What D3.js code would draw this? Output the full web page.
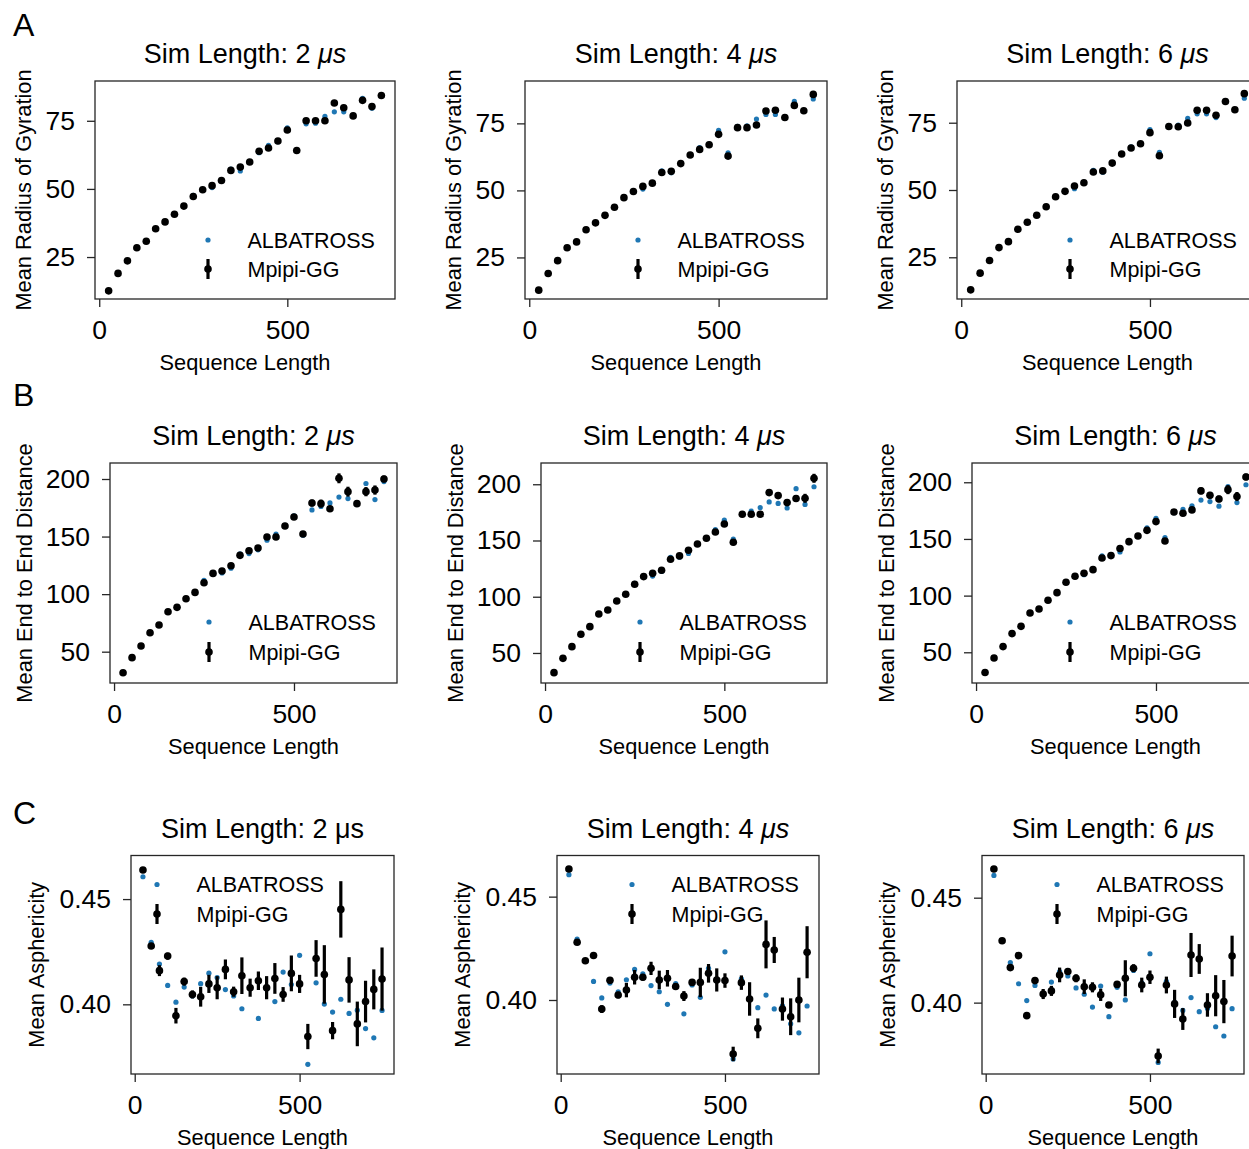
<!DOCTYPE html>
<html>
<head>
<meta charset="utf-8">
<script src="https://cdn.jsdelivr.net/npm/d3@7"></script>
<style>
  html, body { margin: 0; padding: 0; background: #fff; }
  svg { display: block; font-family: "Liberation Sans", Arial, Helvetica, sans-serif; }
</style>
</head>
<body>
<svg id="fig" width="1249" height="1149"></svg>
<script>
// ---------------- DATA ----------------
const seqLength = [25,50,75,100,125,150,175,200,225,250,275,300,325,350,375,400,425,450,475,500,525,550,575,600,625,650,675,700,725,750];
const xTicks = [0, 500];
const simLengths = ["2", "4", "6"];

// Row A : Mean Radius of Gyration
const rgTicks = [25, 50, 75];
const rgAlbatross = [12.7,19.0,23.7,28.5,30.8,35.4,38.0,40.7,43.7,47.6,49.6,50.5,52.8,57.3,56.6,60.0,63.3,66.0,67.3,72.4,64.0,73.9,74.1,76.6,78.3,78.3,76.9,83.2,79.6,84.1];
const rgMpipi2us = [12.6,19.0,23.6,28.4,30.8,35.4,37.9,40.7,43.7,47.2,49.7,51.2,53.1,56.8,58.0,59.9,63.8,65.0,67.6,71.6,64.1,75.0,75.0,75.0,81.5,79.8,76.8,82.5,80.2,84.3];
const rgMpipi4us = [12.8,19.0,23.8,28.6,30.8,35.3,37.9,40.7,43.7,47.3,49.6,51.5,52.7,56.7,57.1,60.0,63.2,65.3,67.0,70.9,62.8,73.4,73.4,74.4,79.6,79.9,77.2,81.7,79.7,85.8];
const rgMpipi6us = [12.9,19.1,23.8,28.6,30.8,35.4,38.0,40.6,43.8,47.5,49.5,51.5,52.7,56.7,57.1,60.0,63.4,65.6,67.2,71.3,62.7,73.6,73.5,74.9,79.6,79.6,77.8,82.9,79.8,85.8];
const rgErr2us = [0.2,0.2,0.2,0.2,0.2,0.3,0.3,0.3,0.3,0.3,0.3,0.3,0.3,0.4,0.4,0.4,0.4,0.4,0.4,0.4,0.5,0.5,0.5,0.5,0.6,0.6,0.6,0.6,0.6,0.6];
const rgErr4us = [0.2,0.2,0.2,0.2,0.2,0.2,0.3,0.3,0.3,0.3,0.3,0.3,0.3,0.3,0.4,0.4,0.4,0.4,0.4,0.4,0.4,0.4,0.5,0.5,0.5,0.5,0.5,0.5,0.5,0.5];
const rgErr6us = [0.2,0.2,0.2,0.2,0.2,0.2,0.2,0.3,0.3,0.3,0.3,0.3,0.3,0.3,0.3,0.3,0.3,0.4,0.4,0.4,0.4,0.4,0.4,0.4,0.4,0.4,0.4,0.4,0.4,0.4];

// Row B : Mean End to End Distance
const reTicks = [50, 100, 150, 200];
const reAlbatross = [32.0,45.0,55.2,66.5,73.2,84.7,88.3,96.0,102.0,112.0,117.5,118.4,122.5,135.0,135.2,138.5,146.8,152.2,159.7,168.1,151.2,173.1,176.1,179.2,184.3,183.0,178.9,196.1,182.1,197.8];
const reMpipi2us = [31.7,44.8,54.9,66.5,73.2,84.7,88.5,96.0,101.5,109.9,118.0,120.1,124.7,133.7,137.7,140.1,149.6,149.6,159.2,167.0,152.2,179.1,178.6,174.2,200.6,189.0,178.6,189.0,190.4,200.0];
const reMpipi4us = [32.5,45.2,55.6,66.6,73.4,84.7,88.2,96.2,102.2,111.1,117.9,120.8,123.5,133.3,136.3,141.3,146.9,152.0,157.6,164.7,148.4,173.3,173.3,173.3,192.6,189.9,183.7,187.3,187.5,205.3];
const reMpipi6us = [32.1,45.0,55.0,66.5,72.9,84.7,88.2,95.9,102.6,111.8,117.1,119.7,122.9,133.2,135.3,141.5,147.6,152.6,157.6,165.3,148.2,173.8,172.6,175.6,192.4,188.5,185.3,193.5,187.4,204.7];
const reErr2us = [0.6,0.7,0.8,0.8,0.9,1.0,1.0,1.0,1.1,1.1,1.2,1.2,1.2,1.3,1.5,1.5,1.5,1.5,1.6,1.6,1.8,3.0,3.5,2.0,4.3,4.3,2.0,4.0,4.0,3.0];
const reErr4us = [0.5,0.6,0.7,0.8,0.8,0.9,0.9,1.0,1.0,1.0,1.1,1.1,1.2,1.2,1.2,1.3,1.3,1.4,1.5,2.0,2.5,1.5,1.5,1.5,2.5,2.5,3.0,3.0,4.0,4.0];
const reErr6us = [0.5,0.5,0.6,0.7,0.7,0.8,0.8,0.9,0.9,1.0,1.0,1.0,1.1,1.1,1.1,1.2,1.2,1.3,1.3,1.5,2.0,1.5,1.5,1.5,3.0,3.0,3.0,4.0,4.0,3.0];

// Row C : Mean Asphericity
const asTicks = [0.40, 0.45];
const asAlbatross = [0.4606,0.4295,0.4191,0.4090,0.4010,0.4082,0.4040,0.4098,0.4148,0.4127,0.4070,0.4040,0.3979,0.4079,0.3933,0.4073,0.4013,0.4153,0.4094,0.4233,0.3715,0.4102,0.4001,0.3963,0.4024,0.3957,0.3972,0.3885,0.3841,0.3971];
const asMpipi2us = [0.4638,0.4277,0.4160,0.4229,0.3946,0.4108,0.4047,0.4036,0.4097,0.4079,0.4166,0.4060,0.4136,0.4079,0.4112,0.4079,0.4123,0.4047,0.4147,0.4097,0.3847,0.4218,0.4142,0.3875,0.4451,0.4116,0.3907,0.4013,0.4071,0.4120];
const asMpipi4us = [0.4634,0.4279,0.4190,0.4215,0.3956,0.4095,0.4024,0.4048,0.4110,0.4110,0.4153,0.4097,0.4105,0.4065,0.4019,0.4085,0.4085,0.4129,0.4097,0.4094,0.3739,0.4084,0.4005,0.3863,0.4269,0.4242,0.3956,0.3919,0.4000,0.4231];
const asMpipi6us = [0.4637,0.4295,0.4167,0.4224,0.3938,0.4105,0.4041,0.4056,0.4132,0.4148,0.4116,0.4076,0.4073,0.4037,0.3989,0.4087,0.4116,0.4164,0.4084,0.4121,0.3746,0.4084,0.3994,0.3922,0.4227,0.4208,0.3989,0.4033,0.4005,0.4222];
const asErr2us = [0.0008,0.0013,0.0026,0.0016,0.0037,0.0019,0.0019,0.0047,0.0043,0.0055,0.0047,0.0024,0.0087,0.0043,0.0044,0.0055,0.0073,0.0035,0.0085,0.0043,0.0060,0.0087,0.0139,0.0041,0.0134,0.0108,0.0106,0.0099,0.0095,0.0150];
const asErr4us = [0.0005,0.0008,0.0008,0.0008,0.0019,0.0016,0.0016,0.0035,0.0035,0.0016,0.0032,0.0045,0.0040,0.0010,0.0024,0.0010,0.0071,0.0045,0.0056,0.0035,0.0035,0.0035,0.0081,0.0048,0.0116,0.0063,0.0056,0.0089,0.0108,0.0126];
const asErr6us = [0.0005,0.0008,0.0008,0.0008,0.0010,0.0010,0.0024,0.0024,0.0035,0.0010,0.0019,0.0035,0.0024,0.0029,0.0010,0.0010,0.0086,0.0019,0.0035,0.0032,0.0035,0.0040,0.0067,0.0052,0.0105,0.0071,0.0056,0.0098,0.0103,0.0097];

// ---------------- LAYOUT ----------------
const xDomain = [-11.25, 786.25];
const FONT = '"Liberation Sans", Arial, Helvetica, sans-serif';
const BLUE = "#1f77b4";
const SPINE = "#262626";

const rows = [
  { letter: "A", letterPos: [13, 36], ylabel: "Mean Radius of Gyration", ticks: rgTicks, fmt: d3.format("d"),
    albatross: rgAlbatross, mpipi: [rgMpipi2us, rgMpipi4us, rgMpipi6us], err: [rgErr2us, rgErr4us, rgErr6us],
    top: 81, bottom: 299, lefts: [95, 525, 957], rights: [395, 827, 1258],
    ydoms: [[9.6, 89.6], [9.5, 90.8], [9.5, 90.5]], ylabOff: 64,
    legend: { dx: [113, 113, 113], fromBottom: true, y1: 59, y2: 30 }, italicMu: [true, true, true] },
  { letter: "B", letterPos: [13, 406], ylabel: "Mean End to End Distance", ticks: reTicks, fmt: d3.format("d"),
    albatross: reAlbatross, mpipi: [reMpipi2us, reMpipi4us, reMpipi6us], err: [reErr2us, reErr4us, reErr6us],
    top: 463, bottom: 683, lefts: [110, 541, 972], rights: [397, 827, 1259],
    ydoms: [[22.8, 213.9], [23.3, 218.9], [22.9, 217.0]], ylabOff: 78,
    legend: { dx: [99, 99, 98], fromBottom: true, y1: 61, y2: 31 }, italicMu: [true, true, true] },
  { letter: "C", letterPos: [13, 824], ylabel: "Mean Asphericity", ticks: asTicks, fmt: d3.format(".2f"),
    albatross: asAlbatross, mpipi: [asMpipi2us, asMpipi4us, asMpipi6us], err: [asErr2us, asErr4us, asErr6us],
    top: 855.5, bottom: 1074, lefts: [131, 557, 982], rights: [394, 819, 1244],
    ydoms: [[0.3669, 0.4707], [0.3642, 0.4699], [0.3660, 0.4701]], ylabOff: 87,
    legend: { dx: [26, 75, 75], fromBottom: false, y1: 29, y2: 58.5 }, italicMu: [false, true, true] }
];

const svg = d3.select("#fig");

rows.forEach(row => {
  svg.append("text")
    .attr("x", row.letterPos[0]).attr("y", row.letterPos[1])
    .attr("font-size", 32).attr("fill", "#000").attr("font-family", FONT)
    .text(row.letter);

  [0, 1, 2].forEach(c => {
    const x0 = row.lefts[c], x1 = row.rights[c], y0 = row.top, y1 = row.bottom;
    const x = d3.scaleLinear().domain(xDomain).range([x0, x1]);
    const y = d3.scaleLinear().domain(row.ydoms[c]).range([y1, y0]);
    const g = svg.append("g");

    // axes
    const xAxis = g.append("g").attr("transform", `translate(0,${y1})`)
      .call(d3.axisBottom(x).tickValues(xTicks).tickFormat(d3.format("d")).tickSize(8).tickSizeOuter(0).tickPadding(13));
    const yAxis = g.append("g").attr("transform", `translate(${x0},0)`)
      .call(d3.axisLeft(y).tickValues(row.ticks).tickFormat(row.fmt).tickSize(8).tickSizeOuter(0).tickPadding(12));
    [xAxis, yAxis].forEach(a => {
      a.select(".domain").remove();
      a.selectAll(".tick line").attr("stroke", SPINE).attr("stroke-width", 1.3);
      a.selectAll(".tick text").attr("font-size", 26.5).attr("fill", "#000").attr("font-family", FONT);
    });

    // frame
    g.append("rect").attr("x", x0).attr("y", y0).attr("width", x1 - x0).attr("height", y1 - y0)
      .attr("fill", "none").attr("stroke", SPINE).attr("stroke-width", 1.3);

    // ALBATROSS points
    g.append("g").selectAll("circle").data(seqLength.map((s, i) => [s, row.albatross[i]]))
      .join("circle").attr("cx", d => x(d[0])).attr("cy", d => y(d[1])).attr("r", 2.6).attr("fill", BLUE);

    // Mpipi-GG with error bars
    const mp = seqLength.map((s, i) => [s, row.mpipi[c][i], row.err[c][i]]);
    g.append("g").selectAll("line").data(mp).join("line")
      .attr("x1", d => x(d[0])).attr("x2", d => x(d[0]))
      .attr("y1", d => y(d[1] - d[2])).attr("y2", d => y(d[1] + d[2]))
      .attr("stroke", "#000").attr("stroke-width", 3.2);
    g.append("g").selectAll("circle").data(mp).join("circle")
      .attr("cx", d => x(d[0])).attr("cy", d => y(d[1])).attr("r", 3.8).attr("fill", "#000");

    // title
    const t = g.append("text").attr("x", (x0 + x1) / 2).attr("y", y0 - 18)
      .attr("text-anchor", "middle").attr("font-size", 27).attr("fill", "#000").attr("font-family", FONT);
    t.append("tspan").text(`Sim Length: ${simLengths[c]} `);
    t.append("tspan").attr("font-style", row.italicMu[c] ? "italic" : "normal").text("μs");

    // y label
    const yc = (y0 + y1) / 2;
    g.append("text").attr("transform", `translate(${x0 - row.ylabOff},${yc}) rotate(-90)`)
      .attr("text-anchor", "middle").attr("font-size", 21.8).attr("fill", "#000").attr("font-family", FONT)
      .text(row.ylabel);

    // x label
    g.append("text").attr("x", (x0 + x1) / 2).attr("y", y1 + 71)
      .attr("text-anchor", "middle").attr("font-size", 21.8).attr("fill", "#000").attr("font-family", FONT)
      .text("Sequence Length");

    // legend
    const lx = x0 + row.legend.dx[c];
    const ly1 = row.legend.fromBottom ? y1 - row.legend.y1 : y0 + row.legend.y1;
    const ly2 = row.legend.fromBottom ? y1 - row.legend.y2 : y0 + row.legend.y2;
    const lg = g.append("g");
    lg.append("circle").attr("cx", lx).attr("cy", ly1).attr("r", 2.6).attr("fill", BLUE);
    lg.append("line").attr("x1", lx).attr("x2", lx).attr("y1", ly2 - 10).attr("y2", ly2 + 10)
      .attr("stroke", "#000").attr("stroke-width", 3.2);
    lg.append("circle").attr("cx", lx).attr("cy", ly2).attr("r", 3.8).attr("fill", "#000");
    lg.append("text").attr("x", lx + 39.5).attr("y", ly1 + 7.5).attr("font-size", 21.5)
      .attr("fill", "#000").attr("font-family", FONT).text("ALBATROSS");
    lg.append("text").attr("x", lx + 39.5).attr("y", ly2 + 7.5).attr("font-size", 21.5)
      .attr("fill", "#000").attr("font-family", FONT).text("Mpipi-GG");
  });
});
</script>
</body>
</html>
